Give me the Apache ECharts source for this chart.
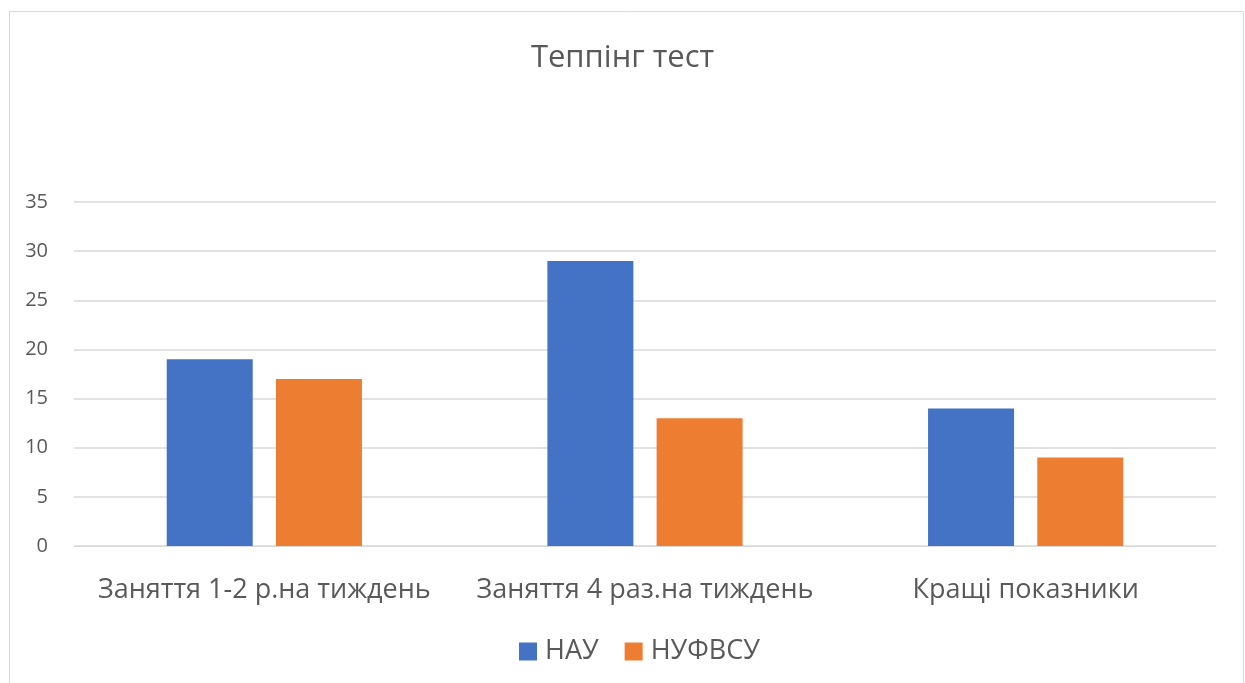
<!DOCTYPE html>
<html>
<head>
<meta charset="utf-8">
<script src="https://cdn.jsdelivr.net/npm/echarts@6/dist/echarts.min.js"></script>
<style>
  html, body { margin: 0; padding: 0; background: #fff; }
  #chart { width: 1245px; height: 683px; }
</style>
</head>
<body>
<div id="chart"></div>
<script>
// дані з діаграми
const categories = ['Заняття 1-2 р.на тиждень', 'Заняття 4 раз.на тиждень', 'Кращі показники']
const nauValues = [19, 29, 14]
const nufvsuValues = [17, 13, 9]
const seriesNames = ['НАУ', 'НУФВСУ']

const font = '"Open Sans", "Noto Sans", sans-serif'
const textColor = '#595959'

const mychart = echarts.init(document.getElementById('chart'))
const option = {
    animation: false,
    textStyle: { fontFamily: font },
    graphic: [{
        type: 'rect',
        shape: { x: 9.5, y: 11.5, width: 1234, height: 680 },
        style: { fill: 'none', stroke: '#d9d9d9', lineWidth: 1 },
        silent: true
    }],
    title: {
        text: 'Теппінг тест',
        left: 'center',
        top: 38,
        textStyle: { fontFamily: font, fontSize: 31, fontWeight: 'normal', color: textColor }
    },
    legend: {
        data: seriesNames,
        bottom: 13,
        left: 514,
        itemWidth: 18,
        itemHeight: 18,
        itemGap: 26,
        icon: 'rect',
        textStyle: { fontFamily: font, fontSize: 27, color: textColor, padding: [0, 0, 0, 3] }
    },
    grid: { left: 74, right: 29, top: 202, bottom: 137, containLabel: false },
    xAxis: {
        type: 'category',
        data: categories,
        axisLine: { lineStyle: { color: '#d9d9d9', width: 1 } },
        axisTick: { show: false },
        axisLabel: { fontFamily: font, fontSize: 27, color: textColor, margin: 31, interval: 0 }
    },
    yAxis: {
        type: 'value',
        min: 0,
        max: 35,
        interval: 5,
        axisLine: { show: false },
        axisTick: { show: false },
        splitLine: { lineStyle: { color: '#d9d9d9', width: 1.5 } },
        axisLabel: { fontFamily: font, fontSize: 20, color: textColor, margin: 26 }
    },
    series: [
        {
            name: seriesNames[0],
            type: 'bar',
            data: nauValues,
            barWidth: 86,
            barGap: '27%',
            itemStyle: { color: '#4472c4' }
        },
        {
            name: seriesNames[1],
            type: 'bar',
            data: nufvsuValues,
            barWidth: 86,
            itemStyle: { color: '#ed7d31' }
        }
    ]
}
mychart.setOption(option)
</script>
</body>
</html>
